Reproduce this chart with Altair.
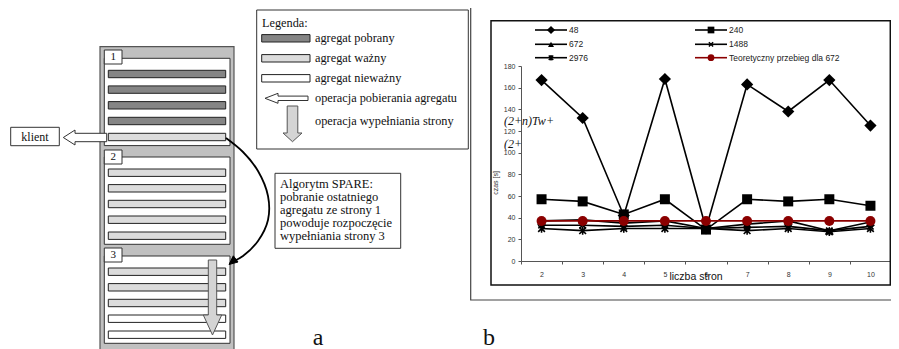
import altair as alt
import pandas as pd

# ---------------- data: chart b ----------------
pages = [2, 3, 4, 5, 6, 7, 8, 9, 10]
s48 = [167, 132, 42, 168, 30, 163, 138, 167, 125]
s240 = [57, 55, 43, 57, 29, 57, 55, 57, 51]
s672 = [37, 38, 35, 37, 30, 34, 37, 28, 36]
s1488 = [33, 33, 32, 33, 30, 31, 32, 28, 32]
s2976 = [30, 28, 30, 30, 30, 28, 30, 27, 30]
theory672 = [37, 37, 37, 37, 37, 37, 37, 37, 37]
series_names = ["48", "240", "672", "1488", "2976", "Teoretyczny przebieg dla 672"]
y_ticks = [0, 20, 40, 60, 80, 100, 120, 140, 160, 180]

# ---------------- data: diagram a (texts) ----------------
legend_a_title = "Legenda:"
legend_a_items = ["agregat pobrany", "agregat ważny", "agregat nieważny",
                  "operacja pobierania agregatu", "operacja wypełniania strony"]
algo_lines = ["Algorytm SPARE:", "pobranie ostatniego", "agregatu ze strony 1",
              "powoduje rozpoczęcie", "wypełniania strony 3"]
page_labels = ["1", "2", "3"]
page1_states = ["pob", "pob", "pob", "pob", "waz"]
page2_states = ["waz", "waz", "waz", "waz", "waz"]
page3_states = ["waz", "waz", "waz", "niew", "niew"]

# ---------------- layout ----------------
X0, Y0 = 521, 66          # page position of the plot origin
W, H = 370, 195
SERIF = "Liberation Serif"
SANS = "Liberation Sans"
FILL = {"pob": "#858585", "waz": "#dcdcdc", "niew": "#ffffff"}


def px(v):
    return v - X0


def py(v):
    return v - Y0


IX = lambda f: alt.X(f, type="quantitative", scale=None, axis=None)
IY = lambda f: alt.Y(f, type="quantitative", scale=None, axis=None)
IX2 = lambda f: alt.X2(f)
IY2 = lambda f: alt.Y2(f)

# ---- rectangles of the diagram and frames ----
rects = []


def rect(x1, y1, x2, y2, fill, stroke="#333", sw=1.0):
    rects.append(dict(x=px(x1), x2=px(x2), y=py(y1), y2=py(y2),
                      fill=fill, stroke=stroke, sw=sw))


# frames of panel b
rect(470.7, 7.3, 910, 300, "transparent", "#444", 1.2)
rect(491, 20.7, 890.3, 285, "transparent", "#111", 1.5)
# container
rect(100, 46.7, 234, 362, "#c0c0c0", "#555", 1.2)
page_tops = [58.3, 157, 256]
label_tops = [50, 150, 248]
bar_offsets = [15.7, 31.3, 47, 62.7, 78.7]
for top, ltop, states in zip(page_tops, label_tops, [page1_states, page2_states, page3_states]):
    rect(104.3, top, 230, top + 87.3, "#ffffff", "#333", 1)
    rect(104.3, ltop, 122, ltop + 14, "#ffffff", "#333", 1)
    for off, st in zip(bar_offsets, states):
        c = top + off
        rect(108.3, c - 3.7, 225.7, c + 3.7, FILL[st], "#222", 1)
rect(10.7, 127.3, 59.3, 145.7, "#ffffff", "#333", 1)          # klient
rect(256.7, 10, 468.3, 149, "#ffffff", "#333", 1)             # legend box
for yy, st in zip([38.3, 58.3, 78.3], ["pob", "waz", "niew"]):
    rect(261.7, yy - 3.7, 310, yy + 3.7, FILL[st], "#222", 1)
rect(275, 173.3, 400.7, 248.3, "#ffffff", "#333", 1)          # algorithm box
rect_df = pd.DataFrame(rects)

rect_layer = alt.Chart(rect_df).mark_rect().encode(
    x=IX("x"), x2=IX2("x2"), y=IY("y"), y2=IY2("y2"),
    fill=alt.Fill("fill:N", scale=None),
    stroke=alt.Stroke("stroke:N", scale=None),
    strokeWidth=alt.StrokeWidth("sw:Q", scale=None),
)

# ---- polygon arrows ----
polys = []


def poly(pid, pts):
    pts = list(pts) + [pts[0]]
    for i, (a, b) in enumerate(pts):
        polys.append(dict(id=pid, ord=i, x=px(a), y=py(b)))


def left_arrow(pid, tip, yc, headx, hh, sh, tailx):
    poly(pid, [(tip, yc), (headx, yc - hh), (headx, yc - sh), (tailx, yc - sh),
               (tailx, yc + sh), (headx, yc + sh), (headx, yc + hh)])


def down_arrow(pid, xc, top, heady, tipy, hw, sw):
    poly(pid, [(xc - sw, top), (xc + sw, top), (xc + sw, heady), (xc + hw, heady),
               (xc, tipy), (xc - hw, heady), (xc - sw, heady)])


left_arrow("a1", 63.3, 137.5, 75, 7.5, 4.2, 106.7)
left_arrow("a2", 265, 98.3, 278, 5, 2.2, 308)
white_df = pd.DataFrame(polys)
polys = []
down_arrow("d1", 292.5, 106, 133, 141.7, 9.5, 5.3)
down_arrow("d2", 212.5, 260, 315, 335, 9.2, 4.2)
gray_df = pd.DataFrame(polys)
polys = []
poly("h", [(229, 264.5), (238.0, 262.0), (233.3, 255.8)])
head_df = pd.DataFrame(polys)

curve_pts = [(226, 138), (243, 152), (258, 171), (268, 196), (268, 220),
             (258, 241), (243, 256), (234, 261)]
curve_df = pd.DataFrame([dict(ord=i, x=px(a), y=py(b)) for i, (a, b) in enumerate(curve_pts)])


def poly_layer(df, fill, stroke="#333"):
    return alt.Chart(df).mark_line(fill=fill, stroke=stroke, strokeWidth=1).encode(
        x=IX("x"), y=IY("y"), order="ord:Q", detail="id:N")


curve_layer = alt.Chart(curve_df).mark_line(
    interpolate="catmull-rom", stroke="#000", strokeWidth=1.8).encode(
    x=IX("x"), y=IY("y"), order="ord:Q")

# ---- texts ----
texts_left = []
texts_center = []


def tl(x, y, t, size, font=SERIF, style="normal"):
    texts_left.append(dict(x=px(x), y=py(y), t=t, size=size, font=font, style=style))


def tc(x, y, t, size, font=SERIF, style="normal"):
    texts_center.append(dict(x=px(x), y=py(y), t=t, size=size, font=font, style=style))


tc(35, 137, "klient", 12)
for lab, ltop in zip(page_labels, label_tops):
    tc(113.2, ltop + 7.3, lab, 11)
tl(262, 23.3, legend_a_title, 12.3)
for yy, t in zip([38.3, 58.3, 78.3, 98.3, 120.7], legend_a_items):
    tl(315, yy, t, 12.3)
for yy, t in zip([184.3, 197, 210, 223, 236], algo_lines):
    tl(280, yy, t, 12.5)
tc(318, 338, "a", 24)
tc(489, 338, "b", 24)
tl(504, 120.7, "(2+n)Tw+", 12, style="italic")
tl(504, 144, "(2+", 12, style="italic")
tc(696, 276.5, "liczba stron", 10.5, font=SANS)


def text_layer(rows, align):
    df = pd.DataFrame(rows)
    layers = []
    for (size, font, style), g in df.groupby(["size", "font", "style"]):
        layers.append(alt.Chart(g).mark_text(
            align=align, baseline="middle", fontSize=size, font=font,
            fontStyle=style, color="#111").encode(x=IX("x"), y=IY("y"), text="t:N"))
    return layers


ylab = alt.Chart(pd.DataFrame([dict(x=px(496), y=py(183), t="czas [s]")])).mark_text(
    angle=270, fontSize=7, font=SANS, color="#333", baseline="middle", align="center").encode(
    x=IX("x"), y=IY("y"), text="t:N")

# ---------------- chart b ----------------
X_SHAPE = "M-1,-1L1,1M-1,1L1,-1"
AST_SHAPE = "M-1,-1L1,1M-1,1L1,-1M0,-1.25L0,1.25"
series_vals = [s48, s240, s672, s1488, s2976, theory672]
styles = [
    ("diamond", 150, True, "#000"),
    ("square", 100, True, "#000"),
    ("triangle-up", 80, True, "#000"),
    (X_SHAPE, 40, False, "#000"),
    (AST_SHAPE, 45, False, "#000"),
    ("circle", 100, True, "#8B0000"),
]
leg_rows = [30, 30, 44.3, 44.3, 57.7, 57.7]
leg_cols = [535, 695, 535, 695, 535, 695]

X_ENC = alt.X("page:O", bandPosition=0.5,
              scale=alt.Scale(type="band", paddingInner=0, paddingOuter=0),
              axis=alt.Axis(title=None, labelAngle=0, tickBand="extent", labelFontSize=7,
                            labelFont=SANS, labelColor="#333", tickSize=3, tickColor="#555",
                            domainColor="#555", labelPadding=6, grid=False))
Y_ENC = alt.Y("czas:Q", scale=alt.Scale(domain=[0, 180], nice=False, zero=True),
              axis=alt.Axis(title=None, values=y_ticks, labelFontSize=7, labelFont=SANS,
                            labelColor="#333", tickSize=3, tickColor="#555",
                            domainColor="#555", labelPadding=3, grid=False))

series_layers = []
legend_layers = []
leg_text = []
for name, vals, (shape, size, filled, col), ly, lx in zip(
        series_names, series_vals, styles, leg_rows, leg_cols):
    df = pd.DataFrame({"page": pages, "czas": vals, "seria": name})
    series_layers.append(alt.Chart(df).mark_line(color=col, strokeWidth=1.6).encode(x=X_ENC, y=Y_ENC))
    series_layers.append(alt.Chart(df).mark_point(
        shape=shape, size=size, filled=filled, color=col, opacity=1,
        strokeWidth=1.6 if not filled else 0.5).encode(x=X_ENC, y=Y_ENC))
    ldf = pd.DataFrame([dict(x=px(lx), x2=px(lx + 32), xm=px(lx + 16), y=py(ly))])
    legend_layers.append(alt.Chart(ldf).mark_rule(color=col, strokeWidth=1.6).encode(
        x=IX("x"), x2=IX2("x2"), y=IY("y")))
    legend_layers.append(alt.Chart(ldf).mark_point(
        shape=shape, size=size * 0.45, filled=filled, color=col, opacity=1,
        strokeWidth=1.5 if not filled else 0.5).encode(x=IX("xm"), y=IY("y")))
    leg_text.append(dict(x=px(lx + 34), y=py(ly), t=name))

leg_text_layer = alt.Chart(pd.DataFrame(leg_text)).mark_text(
    align="left", baseline="middle", fontSize=8.5, font=SANS, color="#222").encode(
    x=IX("x"), y=IY("y"), text="t:N")

layers = (series_layers[:2] + [rect_layer, poly_layer(white_df, "#ffffff"),
                               poly_layer(gray_df, "#d4d4d4", "#555"), curve_layer,
                               poly_layer(head_df, "#000", "#000")]
          + text_layer(texts_left, "left") + text_layer(texts_center, "center")
          + [ylab] + series_layers[2:] + legend_layers + [leg_text_layer])

chart = alt.layer(*layers).properties(
    width=W, height=H,
    autosize=alt.AutoSizeParams(type="none"),
    padding={"left": X0 - 8, "top": Y0 - 8, "right": 0, "bottom": 349 - 8 - H - (Y0 - 8)},
).configure_view(stroke=None)

chart.save("out.html", embed_options={"renderer": "svg", "actions": False})
